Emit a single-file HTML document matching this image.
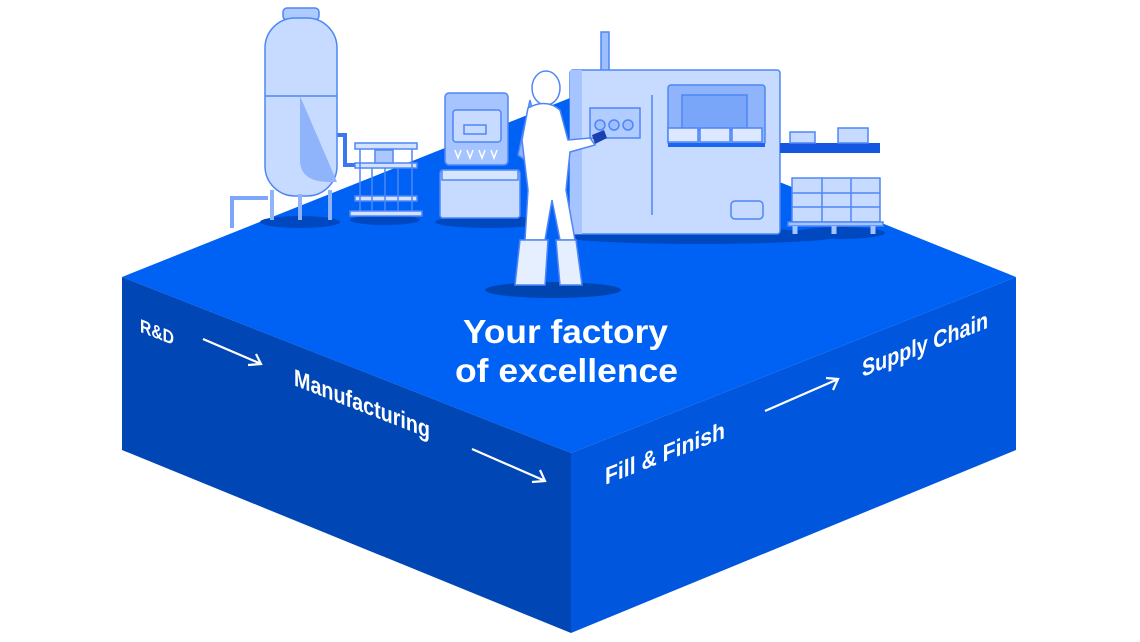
<!DOCTYPE html>
<html><head><meta charset="utf-8"><style>
html,body{margin:0;padding:0;background:#fff;width:1140px;height:642px;overflow:hidden}
svg{display:block}
</style></head><body>
<svg width="1140" height="642" viewBox="0 0 1140 642" xmlns="http://www.w3.org/2000/svg" font-family="Liberation Sans, sans-serif">
<!-- block -->
<polygon points="122,277 570,98 1016,277 571,453" fill="#0062f4"/>
<polygon points="122,277 571,453 571,633 122,450" fill="#0046b4"/>
<polygon points="571,453 1016,277 1016,450 571,633" fill="#0057de"/>
<!-- shadows on floor -->
<ellipse cx="300" cy="222" rx="40" ry="6" fill="#0048c0"/>
<ellipse cx="385" cy="220" rx="35" ry="5" fill="#0048c0"/>
<ellipse cx="490" cy="222" rx="55" ry="6" fill="#0048c0"/>
<ellipse cx="700" cy="236" rx="140" ry="8" fill="#0048c0"/>
<ellipse cx="840" cy="233" rx="45" ry="6" fill="#0048c0"/>
<ellipse cx="553" cy="290" rx="68" ry="8" fill="#0044b0"/>
<g stroke="#4f86f6" stroke-width="1.5">
<!-- pipes -->
<path d="M232,228 V198 H268" fill="none" stroke="#7ea6fa" stroke-width="4"/>
<path d="M337,135 H345 V165 H360" fill="none" stroke="#3b78f0" stroke-width="4"/>
<!-- tank -->
<rect x="283" y="8" width="36" height="12" rx="4" fill="#aecbff"/>
<rect x="265" y="18" width="72" height="178" rx="30" fill="#c6dbff"/>
<path d="M265,96 H337" fill="none"/>
<path d="M300,96 V160 Q300,182 330,182 L337,182" fill="#8fb4fb" stroke="none"/>
<path d="M272,190 V220 M300,194 V220 M330,190 V220" fill="none" stroke="#8fb4fb" stroke-width="4"/>
<!-- rack -->
<rect x="355" y="143" width="62" height="6" fill="#d3e3ff"/>
<rect x="355" y="163" width="62" height="5" fill="#d3e3ff"/>
<rect x="355" y="196" width="62" height="5" fill="#d3e3ff"/>
<rect x="350" y="211" width="72" height="5" fill="#d3e3ff"/>
<path d="M360,149 V211 M372,168 V211 M385,168 V211 M398,168 V211 M412,149 V211" fill="none"/>
<rect x="375" y="150" width="18" height="13" fill="#aac7ff"/>
<!-- filling machine -->
<rect x="440" y="170" width="80" height="48" rx="3" fill="#c6dbff"/>
<rect x="442" y="170" width="76" height="10" fill="#d6e6ff"/>
<rect x="445" y="93" width="63" height="72" rx="4" fill="#a6c4ff"/>
<rect x="453" y="110" width="48" height="32" rx="3" fill="#c6dbff"/>
<rect x="464" y="125" width="22" height="9" fill="none"/>
<path d="M455,150 l3,8 l3,-8 M467,150 l3,8 l3,-8 M479,150 l3,8 l3,-8 M491,150 l3,8 l3,-8" fill="none" stroke="#fff"/>
<!-- big machine -->
<rect x="601" y="32" width="8" height="40" fill="#9dbeff"/>
<rect x="570" y="70" width="210" height="164" rx="3" fill="#c6dbff"/>
<rect x="570" y="70" width="12" height="164" fill="#a6c4ff" stroke="none"/>
<path d="M652,95 V215" fill="none"/>
<rect x="668" y="85" width="97" height="60" rx="3" fill="#8fb4fb"/>
<rect x="682" y="95" width="65" height="35" fill="#7aa6fa"/>
<rect x="668" y="128" width="30" height="14" fill="#dbe8ff"/>
<rect x="700" y="128" width="30" height="14" fill="#dbe8ff"/>
<rect x="732" y="128" width="30" height="14" fill="#dbe8ff"/>
<rect x="668" y="143" width="97" height="4" fill="#1a66f0" stroke="none"/>
<rect x="590" y="108" width="50" height="30" fill="#b1cdff"/>
<circle cx="600" cy="125" r="5" fill="#9dbeff"/><circle cx="614" cy="125" r="5" fill="#9dbeff"/><circle cx="628" cy="125" r="5" fill="#9dbeff"/>
<rect x="731" y="201" width="32" height="18" rx="4" fill="#c6dbff"/>
<!-- shelf -->
<rect x="780" y="143" width="100" height="10" fill="#1456e0" stroke="none"/>
<rect x="790" y="132" width="25" height="11" fill="#c6dbff"/>
<rect x="838" y="128" width="30" height="15" fill="#c6dbff"/>
<!-- pallet boxes -->
<rect x="792" y="178" width="88" height="44" fill="#c6dbff"/>
<path d="M792,193 H880 M792,207 H880 M822,178 V222 M851,178 V222" fill="none"/>
<rect x="788" y="222" width="95" height="4" fill="#a6c4ff"/>
<path d="M795,226 V234 M834,226 V234 M873,226 V234" fill="none" stroke="#a6c4ff" stroke-width="5"/>
<!-- worker -->
<path d="M530,100 L518,155 L525,160 L535,120 Z" fill="#8fb4fb"/>
<ellipse cx="546" cy="88" rx="14" ry="17" fill="#fff"/>
<path d="M528,108 Q546,98 560,110 L568,140 L590,138 L595,145 L570,152 L566,190 L575,240 L560,240 L552,200 L545,240 L525,240 L528,190 L522,140 Z" fill="#fff"/>
<path d="M520,240 H548 L545,285 H515 Z M556,240 H576 L582,285 H560 Z" fill="#e6efff"/>
<path d="M592,135 l12,-5 l3,8 l-12,6 Z" fill="#1a3fb0" stroke="none"/>
</g>
<!-- text -->
<g fill="#fff" font-weight="bold">
<text x="463" y="343" font-size="33" textLength="205" lengthAdjust="spacingAndGlyphs">Your factory</text>
<text x="455" y="382" font-size="33" textLength="223" lengthAdjust="spacingAndGlyphs">of excellence</text>
<g transform="matrix(1,0.392,0,1,0,0)">
<text x="140" y="277" font-size="19" textLength="34" lengthAdjust="spacingAndGlyphs">R&amp;D</text>
<text x="294" y="270" font-size="24" textLength="136" lengthAdjust="spacingAndGlyphs">Manufacturing</text>
</g>
<g transform="matrix(1,-0.392,0,1,0,0)">
<text x="605" y="722" font-size="24" textLength="120" lengthAdjust="spacingAndGlyphs">Fill &amp; Finish</text>
<text x="862" y="715" font-size="24" textLength="126" lengthAdjust="spacingAndGlyphs">Supply Chain</text>
</g>
</g>
<!-- arrows -->
<g stroke="#fff" stroke-width="2.2" fill="none">
<path d="M203,339 L259,363 M248,365 L261,364 L256,354"/>
<path d="M472,449 L543,480 M532,482 L545,481 L540,470"/>
<path d="M765,411 L836,380 M826,378 L838,379 L833,390"/>
</g>
</svg>
</body></html>
